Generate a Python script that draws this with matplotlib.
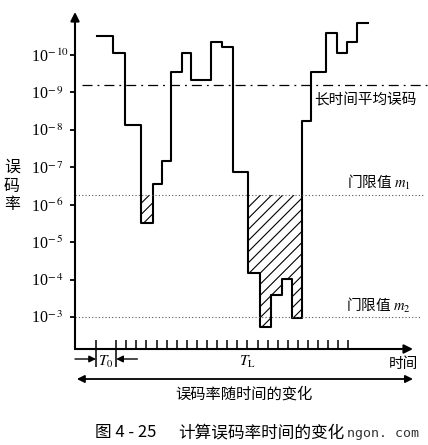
import numpy as np
import matplotlib
matplotlib.use('Agg')
import matplotlib.pyplot as plt
from matplotlib.ticker import NullLocator

plt.rcParams['mathtext.fontset'] = 'stix'
plt.rcParams['hatch.linewidth'] = 0.8

# step edges on the time axis (units of the small tick spacing, first T0 tick = 0)
t_edges = [0.1, 1.7, 2.9, 4.5, 5.6, 6.5, 7.4, 8.5, 9.4, 11.4, 12.5, 13.6,
           15.1, 16.2, 17.3, 18.4, 19.4, 20.4, 21.3, 22.8, 23.9, 24.9, 25.9, 26.9]
# bit error rate held during each interval
ber = [3.1e-11, 8.9e-11, 7.4e-9, 3.1e-6, 2.8e-7, 6.8e-8, 2.8e-10, 8.9e-11,
       4.7e-10, 4.5e-11, 6.2e-11, 1.3e-7, 6.6e-5, 1.9e-3, 2.6e-4, 9.5e-5,
       1.07e-3, 5.8e-9, 2.8e-10, 2.6e-11, 8.9e-11, 4.5e-11, 1.4e-11]
ber_avg = 6.3e-10   # long term average
m1 = 5.5e-7         # threshold m1
m2 = 1e-3           # threshold m2

yticks = [1e-10, 1e-9, 1e-8, 1e-7, 1e-6, 1e-5, 1e-4, 1e-3]
ylabels = ['10$^{-\\,10}$', '10$^{-\\,9}$', '10$^{-\\,8}$', '10$^{-\\,7}$',
           '10$^{-\\,6}$', '10$^{-\\,5}$', '10$^{-\\,4}$', '10$^{-\\,3}$']
big_ticks = [0, 2]
small_ticks = list(range(3, 26))

cjk = ['Noto Sans CJK SC', 'DejaVu Sans']

W, H = 428, 445
fig = plt.figure(figsize=(W / 100, H / 100), dpi=100)
ax = fig.add_axes([75 / W, (H - 349) / H, (413 - 75) / W, (349 - 12) / H])

ber_ext = ber + [ber[-1]]
ax.step(t_edges, ber_ext, where='post', color='black', lw=1.5)
# hatched part below threshold m1
ax.fill_between(t_edges, m1, np.maximum(ber_ext, m1), step='post',
                facecolor='none', edgecolor='black', hatch='///', linewidth=0)

ax.hlines(ber_avg, -1.4, 32.9, colors='black', lw=0.9,
          linestyles=(0, (8, 4, 1.5, 4)), clip_on=False)
ax.hlines(m1, -2.08, 32.6, colors='#555555', lw=0.8, linestyles=(0, (1, 2)), clip_on=False)
ax.hlines(m2, -2.08, 32.2, colors='#555555', lw=0.8, linestyles=(0, (1, 2)), clip_on=False)

ax.set_yscale('log')
ax.set_xlim(-2.08, 31.4)
ax.set_ylim(7.16e-3, 7.1e-12)
ax.set_yticks(yticks)
ax.set_yticklabels(ylabels, fontsize=11.5, family='Liberation Serif')
for lab in ax.get_yticklabels():
    lab.set_horizontalalignment('left')
ax.yaxis.set_minor_locator(NullLocator())
ax.tick_params(axis='y', direction='out', length=3.8, width=1.3, pad=28)

ax.xaxis.remove_overlapping_locs = False
ax.set_xticks(big_ticks)
ax.set_xticklabels([])
ax.set_xticks(big_ticks + small_ticks, minor=True)
ax.tick_params(axis='x', which='major', direction='out', length=13, width=1.1)
ax.tick_params(axis='x', which='minor', direction='in', length=6.5, width=1.1)

for s in ax.spines.values():
    s.set_visible(False)

# axes with arrow heads
arrow = dict(arrowstyle='-|>', lw=1.5, color='black', mutation_scale=13,
             shrinkA=0, shrinkB=0)
ax.annotate('', xy=(0, 1), xytext=(0, 0), xycoords='axes fraction', arrowprops=arrow)
ax.annotate('', xy=(1, 0), xytext=(0, 0), xycoords='axes fraction', arrowprops=arrow)

# T0 arrows
small_arrow = dict(arrowstyle='-|>', lw=1.0, color='black', mutation_scale=10,
                   shrinkA=0, shrinkB=0)
ax.annotate('', xy=(0, H - 359), xytext=(-2.08, H - 359),
            xycoords=('data', 'figure pixels'), arrowprops=small_arrow)
ax.annotate('', xy=(2, H - 359), xytext=(4.1, H - 359),
            xycoords=('data', 'figure pixels'), arrowprops=small_arrow)
# whole span arrow
ax.annotate('', xy=(31.4, H - 379), xytext=(-1.9, H - 379),
            xycoords=('data', 'figure pixels'),
            arrowprops=dict(arrowstyle='<|-|>', lw=1.3, color='black',
                            mutation_scale=11, shrinkA=0, shrinkB=0))

def fx(x):
    return x / W

def fy(y):
    return (H - y) / H

ax.text(21.6, 1.6e-9, '长时间平均误码', family=cjk, fontsize=10.5,
        ha='left', va='center')
ax.text(24.9, 2.5e-7, '门限值 $m_1$', family=cjk, fontsize=10.5,
        ha='left', va='center')
ax.text(24.8, 4.8e-4, '门限值 $m_2$', family=cjk, fontsize=10.5,
        ha='left', va='center')

fig.text(fx(12), fy(186), '误\n码\n率', family=cjk, fontsize=11.5,
         ha='center', va='center', linespacing=1.15)
fig.text(fx(106), fy(362), '$T_0$', fontsize=11, ha='center', va='center')
fig.text(fx(247), fy(362), '$T_\\mathrm{L}$', fontsize=11, ha='center', va='center')
fig.text(fx(403), fy(364), '时间', family=cjk, fontsize=10.5, ha='center', va='center')
fig.text(fx(244), fy(394), '误码率随时间的变化', family=cjk, fontsize=11,
         ha='center', va='center')
fig.text(fx(95), fy(433), '图 4 - 25', family=cjk, fontsize=12,
         ha='left', va='center')
fig.text(fx(178), fy(433), '计算误码率时间的变化', family=cjk, fontsize=12,
         ha='left', va='center')
fig.text(fx(347), fy(433), 'ngon. com', family='DejaVu Sans Mono', fontsize=9.5,
         color='#333333', ha='left', va='center')

fig.savefig('out.png', dpi=100)
